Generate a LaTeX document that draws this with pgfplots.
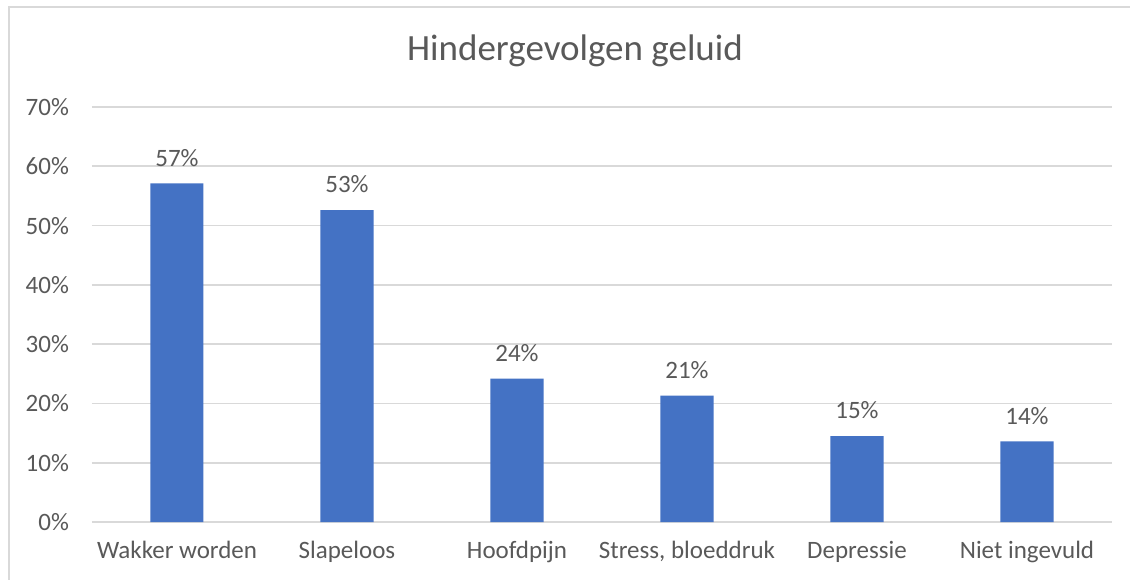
\documentclass[border=0pt]{standalone}
\usepackage{pgfplots}
\pgfplotsset{compat=1.18}
\usepackage{fontspec}
\setmainfont{Carlito}
\definecolor{barblue}{HTML}{4472C4}
\definecolor{gridgray}{HTML}{D9D9D9}
\definecolor{txtgray}{HTML}{595959}
\begin{document}
\begin{tikzpicture}[x=0.5pt,y=0.5pt]
\useasboundingbox (0,0) rectangle (1130,579);
\draw[gridgray, line width=1.2pt] (9,-5) -- (9,572) -- (1135,572);
\coordinate (A) at (92,57);
\node[txtgray, font=\fontsize{18.5}{22}\selectfont] at (575,528) {Hindergevolgen geluid};
\begin{axis}[
  at={(A)}, anchor=south west,
  scale only axis, width=510pt, height=207.5pt,
  xmin=-0.5, xmax=5.5, ymin=0, ymax=70,
  ytick={0,10,...,70},
  xtick={0,1,2,3,4,5},
  xticklabels={Wakker worden,Slapeloos,Hoofdpijn,{Stress, bloeddruk},Depressie,Niet ingevuld},
  /pgf/number format/assume math mode=true,
  yticklabel={\pgfmathprintnumber{\tick}\%},
  axis line style={draw=none},
  major tick length=0pt,
  ymajorgrids, grid style={gridgray, line width=0.8pt},
  tick label style={txtgray, font=\fontsize{12.5}{15}\selectfont},
  yticklabel style={xshift=-8pt},
  xticklabel style={yshift=-6pt},
  ybar, bar width=26.5pt,
  point meta=explicit symbolic,
  nodes near coords,
  nodes near coords style={txtgray, font=\fontsize{12.5}{15}\selectfont, yshift=5pt},
]
\addplot[fill=barblue, draw=none] coordinates {
  (0,57.1) [57\%]
  (1,52.6) [53\%]
  (2,24.2) [24\%]
  (3,21.3) [21\%]
  (4,14.5) [15\%]
  (5,13.6) [14\%]
};
\end{axis}
\end{tikzpicture}
\end{document}
